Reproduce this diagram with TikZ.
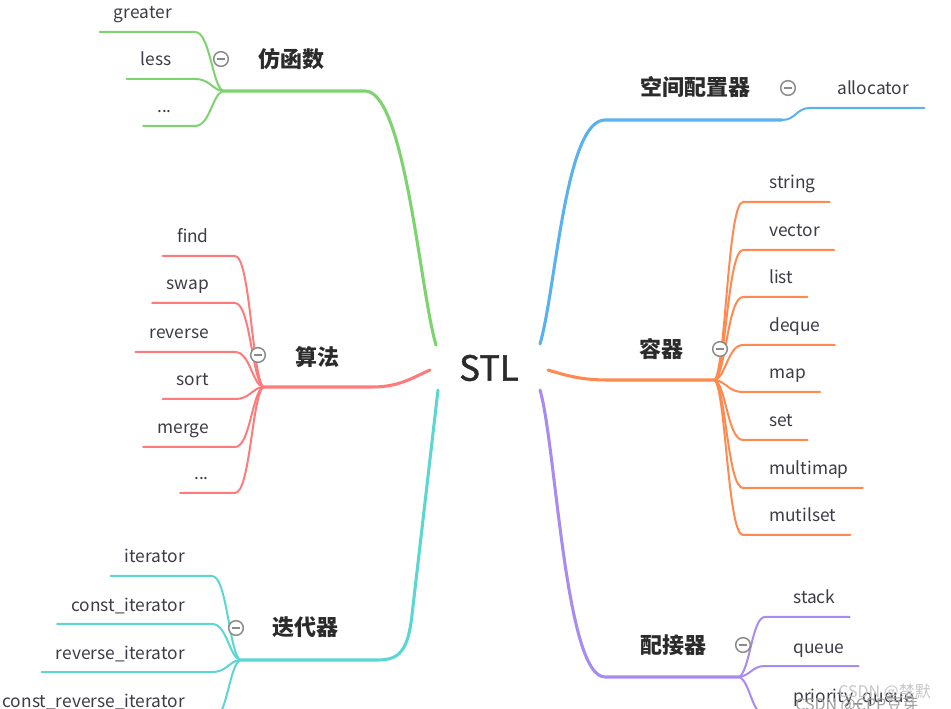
\documentclass[tikz,border=0pt]{standalone}
\usepackage{fontspec}
\setmainfont{Noto Sans CJK SC}
\newfontfamily\stlfont[FakeBold=1.3]{Noto Sans CJK SC}
\usetikzlibrary{calc}
\newcommand{\threedots}{...}
\definecolor{cG}{HTML}{7DD36E}
\definecolor{cR}{HTML}{FF7B7B}
\definecolor{cT}{HTML}{5CD6D0}
\definecolor{cB}{HTML}{5AB1EF}
\definecolor{cO}{HTML}{FF8A50}
\definecolor{cP}{HTML}{A88BF0}
\definecolor{labc}{HTML}{3C3C46}
\definecolor{titc}{HTML}{2B2B2B}
\definecolor{foldc}{HTML}{8A8A8A}
\tikzset{
  main/.style={line width=2.3pt, line cap=round},
  kid/.style={line width=1.5pt, line cap=round},
  lab/.style={inner sep=0pt, font=\fontsize{13}{15}\selectfont, text=labc},
  title/.style={inner sep=0pt, font=\fontsize{16.5}{19}\selectfont\bfseries, text=titc},
  fold/.style={circle, draw=foldc, line width=1.1pt, fill=white, minimum size=11pt, inner sep=0pt,
    path picture={\draw[foldc, line width=1.1pt] ([xshift=-3.2pt]path picture bounding box.center) -- ([xshift=3.2pt]path picture bounding box.center);}},
  wm/.style={inner sep=0pt, font=\fontsize{12}{14}\selectfont},
}
\begin{document}
\begin{tikzpicture}[x=0.75pt, y=-0.75pt]
\clip (0,0) rectangle (951,709);
\fill[white] (0,0) rectangle (951,709);

% centre
\node[inner sep=0pt, font=\stlfont\fontsize{26}{30}\selectfont, text=titc] (stl) at (489,368) {STL};

% ---------- green: 仿函数 ----------
\coordinate (sG) at (436,345);
\coordinate (hubG) at (223,91);
\draw[main, cG] (sG) .. controls (420,291) and (405,91) .. (365,91) -- (hubG);
\foreach \i/\by/\t in {1/32/greater, 2/79/less, 3/126/\threedots} {
  \node[lab, anchor=base east] (g\i) at (172, \by-13) {\t};
  \coordinate (gb\i) at (195, \by);
  \coordinate (ge\i) at ($(g\i.west |- gb\i)+(-14,0)$);
  \draw[kid, cG] (hubG) .. controls (212, {91+0.1*(\by-91)}) and (210, \by) .. (gb\i) -- (ge\i);
}
\node[fold] (fG) at (221,59) {};
\node[title] (tG) at (291,59) {仿函数};

% ---------- red: 算法 ----------
\coordinate (sR) at (430,370);
\coordinate (hubR) at (263,387);
\draw[main, cR] (sR) .. controls (410,379) and (398,387) .. (372,387) -- (hubR);
\foreach \i/\by/\t in {1/256/find, 2/303/swap, 3/352/reverse, 4/399/sort, 5/447/merge, 6/493/\threedots} {
  \node[lab, anchor=base east] (r\i) at (209, \by-13) {\t};
  \coordinate (rb\i) at (235, \by);
  \coordinate (re\i) at ($(r\i.west |- rb\i)+(-14,0)$);
  \draw[kid, cR] (hubR) .. controls (252, {387+0.1*(\by-387)}) and (250, \by) .. (rb\i) -- (re\i);
}
\node[fold] (fR) at (258,355) {};
\node[title] (tR) at (317,357) {算法};

% ---------- teal: 迭代器 ----------
\coordinate (sT) at (438,390);
\coordinate (hubT) at (240,660);
\draw[main, cT] (sT) -- (412,615) .. controls (408,650) and (400,660) .. (378,660) -- (hubT);
\foreach \i/\by/\t in {1/576/iterator, 2/624/const\_iterator, 3/672/reverse\_iterator, 4/720/const\_reverse\_iterator} {
  \node[lab, anchor=base east] (t\i) at (185, \by-13) {\t};
  \coordinate (tb\i) at (212, \by);
  \coordinate (te\i) at ($(t\i.west |- tb\i)+(-14,0)$);
  \draw[kid, cT] (hubT) .. controls (229, {660+0.1*(\by-660)}) and (227, \by) .. (tb\i) -- (te\i);
}
\node[fold] (fT) at (236,628) {};
\node[title] (tT) at (305,627) {迭代器};

% ---------- blue: 空间配置器 ----------
\coordinate (sB) at (540,344);
\coordinate (hubB) at (782,120);
\draw[main, cB] (sB) .. controls (556,290) and (565,120) .. (605,120) -- (hubB);
\node[lab, anchor=base west] (b1) at (837, 95) {allocator};
\coordinate (bb1) at (810,108);
\coordinate (be1) at ($(b1.east |- bb1)+(15,0)$);
\draw[kid, cB] (hubB) .. controls (796,120) and (796,108) .. (bb1) -- (be1);
\node[fold] (fB) at (788,88) {};
\node[title] (tB) at (695,87) {空间配置器};

% ---------- orange: 容器 ----------
\coordinate (sO) at (548,370);
\coordinate (hubO) at (715,380);
\draw[main, cO] (sO) .. controls (568,376) and (582,380) .. (608,380) -- (hubO);
\foreach \i/\by/\t in {1/202/string, 2/250/vector, 3/297/list, 4/345/deque, 5/392/map, 6/440/set, 7/488/multimap, 8/535/mutilset} {
  \node[lab, anchor=base west] (o\i) at (769, \by-13) {\t};
  \coordinate (ob\i) at (743, \by);
  \coordinate (oe\i) at ($(o\i.east |- ob\i)+(14,0)$);
  \draw[kid, cO] (hubO) .. controls (726, {380+0.1*(\by-380)}) and (728, \by) .. (ob\i) -- (oe\i);
}
\node[fold] (fO) at (720,349) {};
\node[title] (tO) at (661,349) {容器};

% ---------- purple: 配接器 ----------
\coordinate (sP) at (540,390);
\coordinate (hubP) at (739,677);
\draw[main, cP] (sP) .. controls (556,444) and (565,677) .. (605,677) -- (hubP);
\foreach \i/\by/\t in {1/617/stack, 2/666/queue, 3/715/priority\_queue} {
  \node[lab, anchor=base west] (p\i) at (793, \by-13) {\t};
  \coordinate (pb\i) at (765, \by);
  \coordinate (pe\i) at ($(p\i.east |- pb\i)+(14,0)$);
  \draw[kid, cP] (hubP) .. controls (750, {677+0.1*(\by-677)}) and (752, \by) .. (pb\i) -- (pe\i);
}
\node[fold] (fP) at (743,645) {};
\node[title] (tP) at (673,645) {配接器};

% watermark
\node[wm, text=gray!45, anchor=west] (wm1) at (838,692) {CSDN @禁默};
\node[wm, text=gray!75, anchor=west] (wm2) at (795,705) {CSDN @CPP豆芽};
\end{tikzpicture}
\end{document}
